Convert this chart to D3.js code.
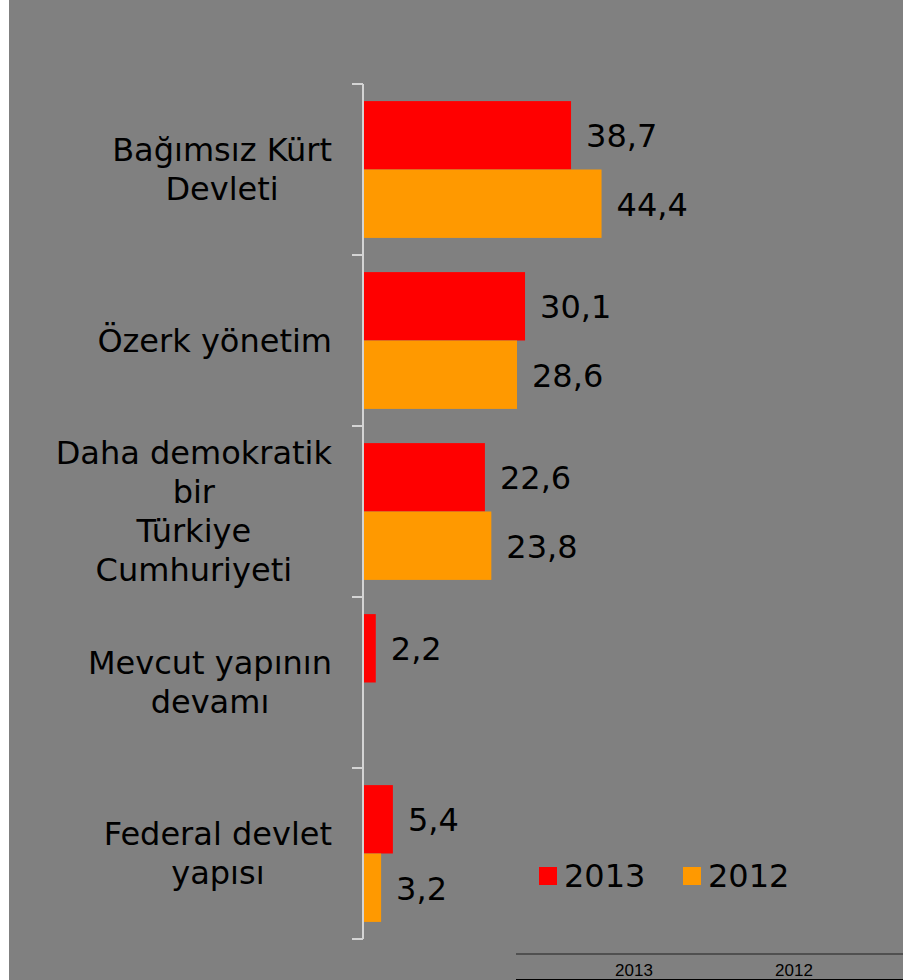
<!DOCTYPE html>
<html>
<head>
<meta charset="utf-8">
<script src="https://cdnjs.cloudflare.com/ajax/libs/d3/7.8.5/d3.min.js"></script>
<style>
  body { margin: 0; padding: 0; background: #fff; }
  svg { display: block; }
</style>
</head>
<body>
<script>
// chart values
var categories = ["Bağımsız Kürt Devleti", "Özerk yönetim", "Daha demokratik bir Türkiye Cumhuriyeti", "Mevcut yapının devamı", "Federal devlet yapısı"];
var labelLines = [
    ["Bağımsız Kürt", "Devleti"],
    ["Özerk yönetim"],
    ["Daha demokratik", "bir", "Türkiye", "Cumhuriyeti"],
    ["Mevcut yapının", "devamı"],
    ["Federal devlet", "yapısı"]
];
var series = ["2013", "2012"];
var values2013 = [38.7, 30.1, 22.6, 2.2, 5.4];
var values2012 = [44.4, 28.6, 23.8, null, 3.2];
var colors = ["#ff0000", "#ff9900"];

var width = 903, height = 980;
var font = "'DejaVu Sans', Verdana, sans-serif";

var svg = d3.select("body").append("svg")
    .attr("width", width)
    .attr("height", height);

// background: thin white strip on the left, then gray
svg.append("rect").attr("x", 0).attr("y", 0).attr("width", width).attr("height", height).attr("fill", "#ffffff");
svg.append("rect").attr("x", 9).attr("y", 0).attr("width", width - 9).attr("height", height).attr("fill", "#808080");

// scales
var y = d3.scaleBand()
    .domain(categories)
    .range([84, 939])
    .paddingInner(0.2)
    .paddingOuter(0.1);

var ySub = d3.scaleBand()
    .domain(series)
    .range([0, y.bandwidth()]);

var x = d3.scaleLinear()
    .domain([0, 50])
    .range([364, 631.5]);

var rows = categories.map(function(c, i){
    return {cat: c, lines: labelLines[i], vals: [values2013[i], values2012[i]]};
});

// bars
var groups = svg.selectAll("g.cat")
    .data(rows)
    .enter()
    .append("g")
    .attr("class", "cat")
    .attr("transform", function(d){ return "translate(0," + y(d.cat) + ")"; });

groups.each(function(d){
    var g = d3.select(this);
    var items = series.map(function(s, k){ return {s: s, v: d.vals[k], k: k}; })
	.filter(function(e){ return e.v !== null; });

    g.selectAll("rect")
	.data(items)
	.enter()
	.append("rect")
	.attr("x", x(0))
	.attr("y", function(e){ return ySub(e.s); })
	.attr("width", function(e){ return x(e.v) - x(0); })
	.attr("height", ySub.bandwidth())
	.attr("fill", function(e){ return colors[e.k]; });

    g.selectAll("text.val")
	.data(items)
	.enter()
	.append("text")
	.attr("class", "val")
	.attr("x", function(e){ return x(e.v) + 15; })
	.attr("y", function(e){ return ySub(e.s) + ySub.bandwidth() / 2 + 12; })
	.attr("font-family", font)
	.attr("font-size", "32px")
	.attr("fill", "#000")
	.text(function(e){ return String(e.v).replace(".", ","); });
});

// vertical axis line with ticks at category boundaries
var step = y.step();
var y0 = y.range()[0];
svg.append("line")
    .attr("x1", 363).attr("x2", 363)
    .attr("y1", y0).attr("y2", y0 + step * categories.length)
    .attr("stroke", "#d4d4d4")
    .attr("stroke-width", 2);

svg.selectAll("line.tick")
    .data(d3.range(categories.length + 1))
    .enter()
    .append("line")
    .attr("class", "tick")
    .attr("x1", 352).attr("x2", 363)
    .attr("y1", function(i){ return y0 + i * step; })
    .attr("y2", function(i){ return y0 + i * step; })
    .attr("stroke", "#d4d4d4")
    .attr("stroke-width", 2);

// category labels: lines centred within a block whose right edge sits at 332
var lineH = 39;
rows.forEach(function(d){
    var g = svg.append("g");
    var texts = g.selectAll("text")
	.data(d.lines)
	.enter()
	.append("text")
	.attr("font-family", font)
	.attr("font-size", "32px")
	.attr("fill", "#000")
	.attr("text-anchor", "middle")
	.text(function(t){ return t; });
    var maxW = 0;
    texts.each(function(){ maxW = Math.max(maxW, this.getComputedTextLength()); });
    var cx = 332 - maxW / 2;
    var mid = y(d.cat) + y.bandwidth() / 2;
    var first = mid - (d.lines.length - 1) * lineH / 2 + 11;
    texts.attr("x", cx)
	.attr("y", function(t, i){ return first + i * lineH; });
});

// legend
var legend = svg.selectAll("g.legend")
    .data(series)
    .enter()
    .append("g")
    .attr("class", "legend")
    .attr("transform", function(d, i){ return "translate(" + (539 + i * 144) + ",867)"; });

legend.append("rect")
    .attr("width", 18)
    .attr("height", 18)
    .attr("fill", function(d, i){ return colors[i]; });

legend.append("text")
    .attr("x", 25)
    .attr("y", 20)
    .attr("font-family", font)
    .attr("font-size", "32px")
    .attr("fill", "#000")
    .text(function(d){ return d; });

// data table header strip at the bottom
svg.append("line")
    .attr("x1", 516).attr("x2", width)
    .attr("y1", 954).attr("y2", 954)
    .attr("stroke", "#404040")
    .attr("stroke-width", 1.5);
svg.append("line")
    .attr("x1", 516).attr("x2", width)
    .attr("y1", 979.5).attr("y2", 979.5)
    .attr("stroke", "#000")
    .attr("stroke-width", 1);

svg.selectAll("text.tbl")
    .data(series)
    .enter()
    .append("text")
    .attr("class", "tbl")
    .attr("x", function(d, i){ return 634 + i * 160; })
    .attr("y", 976)
    .attr("text-anchor", "middle")
    .attr("font-family", "'Liberation Sans', Arial, sans-serif")
    .attr("font-size", "17px")
    .attr("fill", "#000")
    .text(function(d){ return d; });
</script>
</body>
</html>
